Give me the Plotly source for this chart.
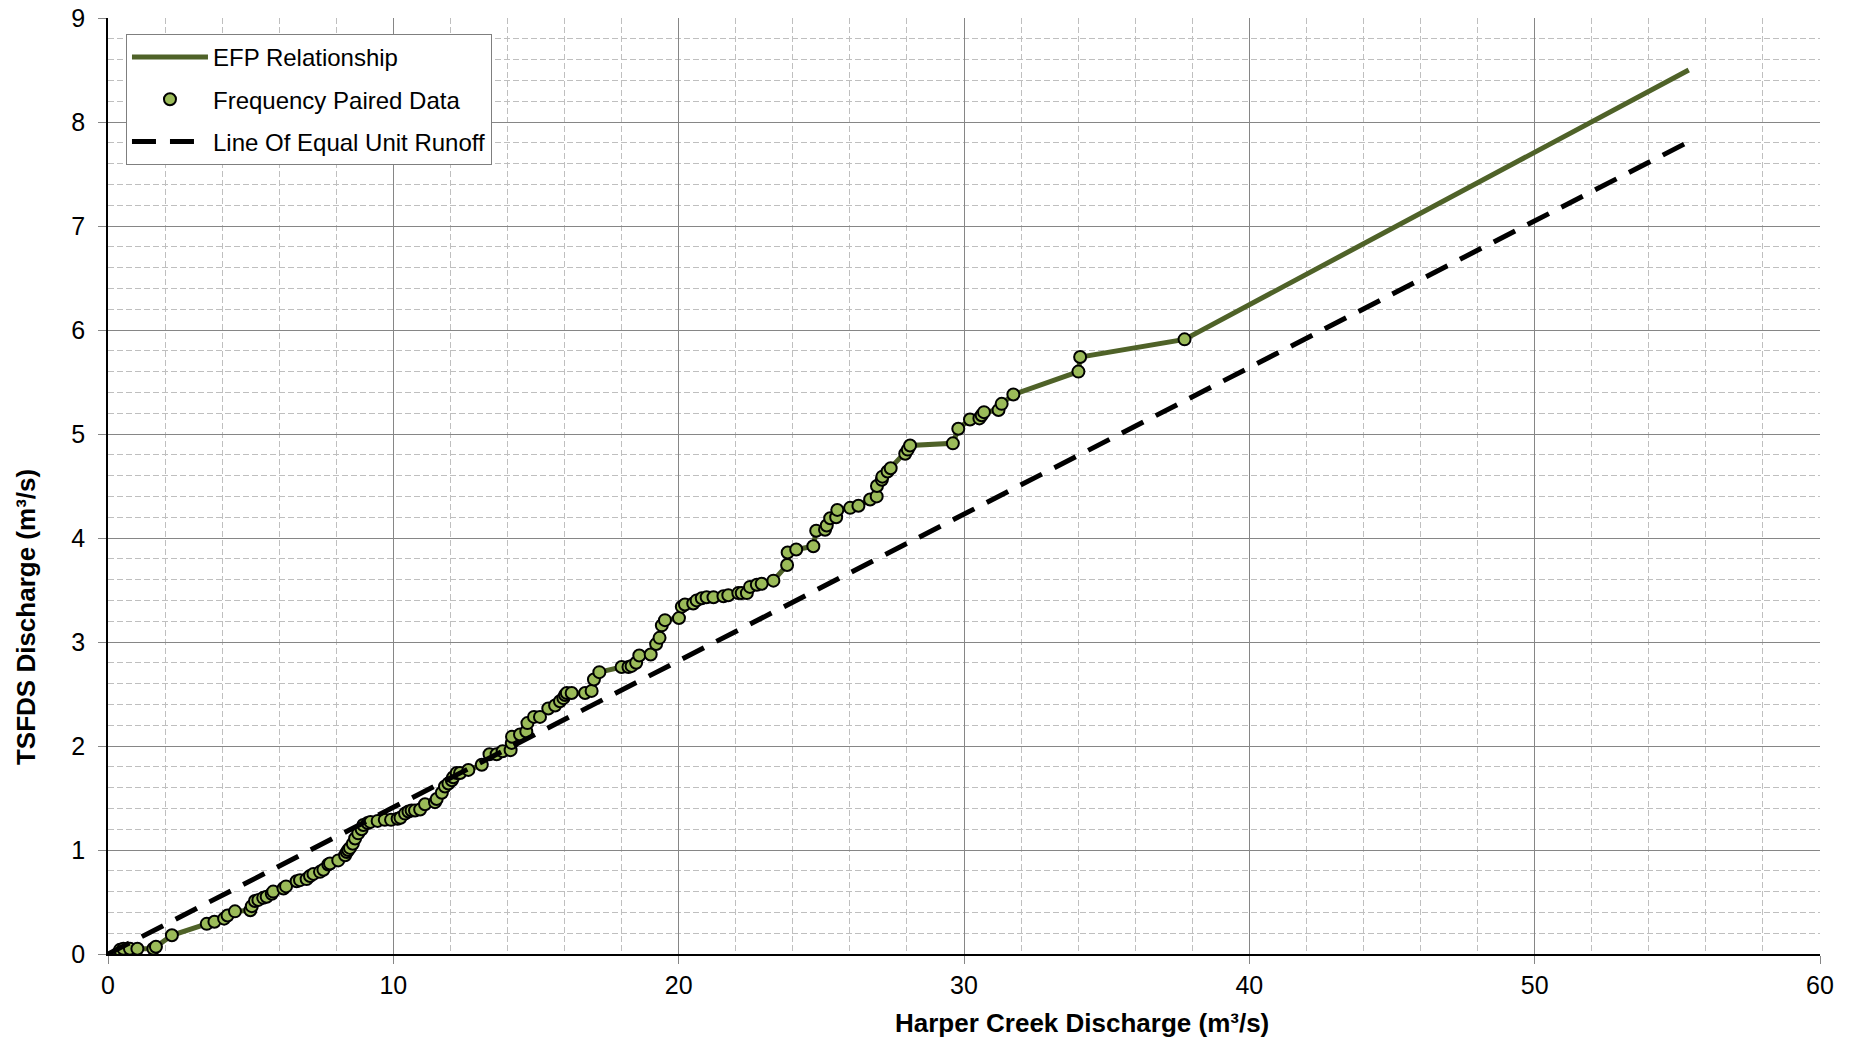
import plotly.graph_objects as go

# Frequency paired data (Harper Creek discharge, TSFDS discharge), m3/s
harper_q = [0.33, 0.42, 0.54, 0.77, 1.03, 1.59, 1.68, 2.24, 3.46, 3.73, 4.07, 4.19, 4.45, 4.99, 5.04,
            5.15, 5.27, 5.44, 5.56, 5.74, 5.79, 6.15, 6.24, 6.61, 6.73, 6.96, 7.08, 7.20, 7.43, 7.55,
            7.72, 7.78, 8.07, 8.31, 8.37, 8.42, 8.48, 8.58, 8.66, 8.77, 8.89, 8.95, 9.10, 9.20, 9.45,
            9.70, 9.92, 10.15, 10.25, 10.41, 10.53, 10.64, 10.76, 10.94, 11.11, 11.46, 11.52, 11.70,
            11.81, 11.93, 12.05, 12.10, 12.22, 12.34, 12.63, 13.10, 13.37, 13.62, 13.83, 14.11, 14.15,
            14.16, 14.44, 14.66, 14.70, 14.93, 15.14, 15.43, 15.67, 15.84, 15.96, 16.02, 16.08, 16.25,
            16.72, 16.95, 17.03, 17.22, 18.00, 18.24, 18.35, 18.51, 18.62, 19.02, 19.21, 19.33, 19.41,
            19.52, 20.01, 20.11, 20.22, 20.51, 20.63, 20.81, 20.98, 21.22, 21.57, 21.74, 22.09, 22.21,
            22.39, 22.50, 22.74, 22.91, 23.32, 23.80, 23.82, 24.12, 24.72, 24.82, 25.13, 25.19, 25.31,
            25.52, 25.56, 26.01, 26.30, 26.71, 26.94, 26.95, 27.12, 27.14, 27.32, 27.43, 27.94, 28.03,
            28.11, 29.61, 29.80, 30.21, 30.54, 30.62, 30.70, 31.21, 31.32, 31.73, 34.01, 34.07, 37.73]
tsfds_q = [0.00, 0.04, 0.05, 0.05, 0.05, 0.05, 0.07, 0.18, 0.29, 0.31, 0.34, 0.37, 0.41, 0.42, 0.46,
           0.51, 0.52, 0.54, 0.55, 0.58, 0.60, 0.63, 0.65, 0.70, 0.71, 0.72, 0.75, 0.77, 0.79, 0.81,
           0.86, 0.87, 0.90, 0.95, 0.98, 1.00, 1.02, 1.06, 1.11, 1.16, 1.20, 1.24, 1.26, 1.27, 1.28,
           1.29, 1.29, 1.30, 1.31, 1.35, 1.37, 1.38, 1.38, 1.39, 1.44, 1.46, 1.49, 1.55,
           1.61, 1.64, 1.67, 1.70, 1.74, 1.74, 1.77, 1.82, 1.92, 1.92, 1.95, 1.96, 2.03,
           2.09, 2.11, 2.14, 2.22, 2.28, 2.28, 2.36, 2.39, 2.43, 2.46, 2.49, 2.51, 2.51,
           2.51, 2.53, 2.64, 2.71, 2.76, 2.76, 2.77, 2.80, 2.87, 2.88, 2.98, 3.04, 3.16,
           3.21, 3.23, 3.34, 3.36, 3.37, 3.40, 3.42, 3.43, 3.43, 3.44, 3.45, 3.47, 3.47,
           3.47, 3.53, 3.55, 3.56, 3.59, 3.74, 3.86, 3.89, 3.92, 4.07, 4.08, 4.12, 4.19,
           4.20, 4.27, 4.29, 4.31, 4.37, 4.40, 4.50, 4.56, 4.59, 4.64, 4.67, 4.81, 4.85,
           4.89, 4.91, 5.05, 5.14, 5.15, 5.18, 5.21, 5.23, 5.29, 5.38, 5.60, 5.74, 5.91]

# EFP relationship extension beyond the data
efp_tail_x = [55.4]
efp_tail_y = [8.50]

# Line of equal unit runoff
equal_x = [0.0, 55.4]
equal_y = [0.0, 7.81]

x_ticks = [0, 10, 20, 30, 40, 50, 60]
y_ticks = [0, 1, 2, 3, 4, 5, 6, 7, 8, 9]

FONT = "Liberation Sans, Arial, sans-serif"

fig = go.Figure()
fig.add_trace(go.Scatter(
    x=harper_q + efp_tail_x, y=tsfds_q + efp_tail_y, mode="lines",
    name="EFP Relationship", legendgroup="a",
    line=dict(color="#4F6228", width=5)))
fig.add_trace(go.Scatter(
    x=harper_q, y=tsfds_q, mode="markers", name="Frequency Paired Data", legendgroup="b",
    marker=dict(symbol="circle", size=12, color="#9BBB59",
                line=dict(color="#000000", width=2))))
fig.add_trace(go.Scatter(
    x=equal_x, y=equal_y, mode="lines", name="Line Of Equal Unit Runoff", legendgroup="c",
    line=dict(color="#000000", width=5, dash="24px,14px")))

axis_common = dict(
    showgrid=True, gridcolor="#868686", gridwidth=1,
    ticks="outside", ticklen=8, tickcolor="#868686", tickwidth=1,
    showline=True, linecolor="#000000", linewidth=1.5,
    zeroline=False, automargin=False, ticklabeloverflow="allow",
    tickfont=dict(family=FONT, size=25, color="#000000"),
)

fig.update_xaxes(range=[0, 60], tickvals=x_ticks, ticktext=[str(v) for v in x_ticks],
                 minor=dict(dtick=2, showgrid=True, gridcolor="#BFBFBF", gridwidth=1,
                            griddash="6px,3px", ticks=""),
                 ticklabelstandoff=0, **axis_common)
fig.update_yaxes(range=[0, 9], tickvals=y_ticks, ticktext=[str(v) for v in y_ticks],
                 minor=dict(dtick=0.2, showgrid=True, gridcolor="#BFBFBF", gridwidth=1,
                            griddash="6px,3px", ticks=""),
                 ticklabelstandoff=8, **axis_common)

fig.add_annotation(text="<b>Harper Creek Discharge (m³/s)</b>", xref="paper", yref="paper",
                   x=0.569, y=0, yshift=-69, xanchor="center", yanchor="middle",
                   showarrow=False, font=dict(family=FONT, size=26, color="#000000"))
fig.add_annotation(text="<b>TSFDS Discharge (m³/s)</b>", xref="paper", yref="paper",
                   x=0, y=0.36, xshift=-82, xanchor="center", yanchor="middle", textangle=-90,
                   showarrow=False, font=dict(family=FONT, size=26, color="#000000"))

fig.update_layout(
    width=1858, height=1042,
    margin=dict(l=108, r=38, t=18, b=88),
    paper_bgcolor="#FFFFFF", plot_bgcolor="#FFFFFF",
    showlegend=True,
    legend=dict(x=0.0105, y=0.983, xanchor="left", yanchor="top",
                bgcolor="#FFFFFF", bordercolor="#7F7F7F", borderwidth=1,
                font=dict(family=FONT, size=24, color="#000000"),
                itemwidth=76, traceorder="grouped", tracegroupgap=8),
)

# remove the default 8px page margin so the figure fills the window exactly
fig.write_html("out.html", config={"displayModeBar": False},
               post_script="document.body.style.margin='0';")
